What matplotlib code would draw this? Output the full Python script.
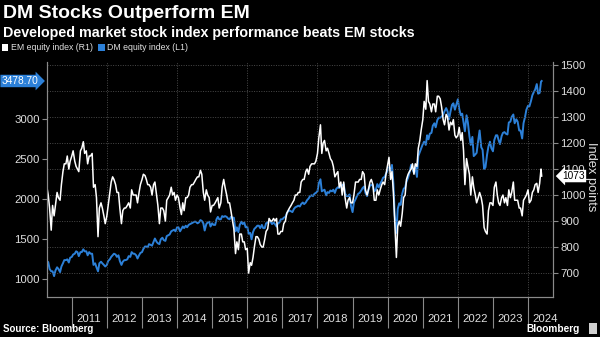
import matplotlib
matplotlib.use('Agg')
import matplotlib.pyplot as plt
from matplotlib.patches import Patch, Rectangle
import pandas as pd

# semi-monthly readings (1st and 15th), mid-April 2010 to mid-May 2024, plus last close
dates = list(pd.date_range('2010-04-15', '2024-05-15', freq='SMS')) + [pd.Timestamp('2024-05-22')]

# MSCI EM, right axis
em = [
    1035, 1000, 950, 865, 960, 920, 960, 1010, 990, 980, 1040, 1090, 1120, 1120, 1150, 1100, 1130,
    1150, 1170, 1130, 1110, 1100, 1090, 1170, 1180, 1205, 1160, 1170, 1120, 1150, 1150, 1160, 1030, 1040, 990, 840, 950, 970, 950, 920, 890,
    920, 960, 1010, 1050, 1070, 1060, 1040, 1010, 1010, 950, 890, 940, 950, 950, 960, 970, 950, 1020, 1000, 1000, 1000, 970, 1010, 1040,
    1060, 1080, 1075, 1060, 1040, 1040, 1030, 1000, 1040, 1050, 1000, 960, 890, 950, 950, 940, 900, 980, 990, 1000, 1030, 1000, 1010, 980,
    1000, 990, 950, 925, 970, 940, 990, 990, 1000, 1030, 1040, 1040, 1050, 1060, 1070, 1070, 1095, 1080, 1010, 980, 1020, 1000, 990, 935,
    960, 960, 970, 980, 990, 950, 970, 1030, 1060, 1030, 1000, 970, 970, 940, 900, 870, 775, 820, 790, 850, 850, 820, 820, 790,
    795, 700, 740, 730, 760, 800, 840, 840, 830, 810, 800, 800, 830, 860, 870, 910, 900, 900, 910, 900, 910, 850, 850, 860,
    860, 890, 900, 930, 940, 950, 960, 970, 980, 1000, 1000, 1010, 1010, 1050, 1060, 1060, 1090, 1100, 1080, 1110, 1120, 1120, 1120, 1130,
    1160, 1220, 1270, 1160, 1200, 1210, 1170, 1180, 1160, 1140, 1130, 1110, 1070, 1080, 1090, 1030, 1050, 1000, 1050, 990, 950, 980, 990, 970,
    970, 1000, 1050, 1050, 1050, 1060, 1060, 1090, 1080, 1020, 1000, 1020, 1050, 1060, 1040, 980, 980, 1020, 1000, 1020, 1040, 1050, 1040, 1080,
    1115, 1145, 1060, 1090, 1010, 900, 760, 880, 900, 880, 930, 990, 1000, 1060, 1080, 1090, 1100, 1120, 1080, 1120, 1110, 1180, 1210, 1250,
    1290, 1360, 1330, 1440, 1360, 1350, 1320, 1350, 1350, 1320, 1380, 1380, 1370, 1340, 1290, 1270, 1310, 1300, 1250, 1280, 1270, 1290, 1230, 1220,
    1230, 1260, 1210, 1240, 1170, 1040, 1140, 1110, 1080, 1000, 1070, 1030, 1000, 970, 990, 1010, 990, 960, 875, 860, 850, 940, 970, 970,
    960, 1030, 1050, 1000, 970, 960, 990, 1000, 970, 990, 960, 1020, 990, 1010, 1050, 980, 980, 980, 950, 950, 920, 980, 990, 1000,
    1020, 970, 980, 1010, 1020, 1040, 1045, 1010, 1045, 1100, 1073,
]

# MSCI World, left axis
dm = [
    1230, 1215, 1130, 1100, 1100, 1040, 1110, 1150, 1130, 1090, 1160, 1200, 1240, 1240, 1250, 1210, 1270,
    1280, 1310, 1320, 1350, 1340, 1290, 1340, 1340, 1375, 1350, 1350, 1300, 1340, 1320, 1320, 1180, 1200, 1150, 1100, 1200, 1220, 1200, 1180, 1160,
    1180, 1230, 1250, 1280, 1300, 1320, 1310, 1280, 1300, 1230, 1180, 1220, 1240, 1240, 1250, 1290, 1280, 1340, 1320, 1320, 1300, 1260, 1300, 1330,
    1340, 1380, 1410, 1410, 1400, 1440, 1430, 1420, 1470, 1510, 1470, 1450, 1440, 1500, 1520, 1490, 1480, 1540, 1550, 1560, 1600, 1610, 1620, 1600,
    1650, 1650, 1600, 1630, 1660, 1640, 1670, 1650, 1680, 1690, 1700, 1710, 1720, 1720, 1700, 1710, 1740, 1730, 1700, 1610, 1690, 1710, 1720, 1660,
    1700, 1680, 1680, 1750, 1780, 1750, 1750, 1790, 1780, 1790, 1780, 1760, 1750, 1780, 1770, 1770, 1600, 1650, 1590, 1680, 1720, 1690, 1710, 1650,
    1660, 1570, 1580, 1500, 1590, 1630, 1650, 1670, 1670, 1640, 1680, 1640, 1640, 1700, 1710, 1730, 1720, 1690, 1710, 1690, 1660, 1700, 1710, 1750,
    1750, 1770, 1780, 1820, 1850, 1860, 1850, 1840, 1880, 1900, 1910, 1920, 1910, 1940, 1960, 1940, 1960, 1990, 2010, 2040, 2050, 2040, 2070, 2080,
    2100, 2200, 2250, 2100, 2110, 2120, 2050, 2090, 2080, 2110, 2100, 2120, 2080, 2130, 2150, 2140, 2170, 2170, 2190, 2070, 2040, 2040, 2060, 1920,
    1840, 1960, 2000, 2040, 2070, 2080, 2110, 2140, 2160, 2080, 2040, 2120, 2170, 2180, 2170, 2100, 2120, 2190, 2150, 2190, 2230, 2270, 2280, 2320,
    2360, 2400, 2360, 2430, 2200, 1800, 1580, 1880, 1950, 1930, 2070, 2130, 2150, 2220, 2270, 2330, 2430, 2380, 2330, 2410, 2280, 2540, 2590, 2630,
    2690, 2720, 2680, 2800, 2750, 2820, 2830, 2920, 2950, 2900, 2990, 3020, 3020, 3030, 3060, 3100, 3140, 3100, 3000, 3090, 3180, 3200, 3120, 3180,
    3250, 3130, 3050, 3070, 2960, 2850, 3050, 2960, 2790, 2680, 2780, 2540, 2560, 2580, 2740, 2860, 2650, 2620, 2380, 2400, 2560, 2660, 2720, 2640,
    2600, 2740, 2800, 2800, 2740, 2690, 2790, 2830, 2840, 2820, 2810, 2960, 2970, 3030, 3060, 2950, 3000, 2970, 2860, 2860, 2760, 2950, 3030, 3120,
    3170, 3160, 3230, 3300, 3340, 3370, 3440, 3320, 3330, 3470, 3478.70,
]

years = list(range(2011, 2025))
left_ticks = [1000, 1500, 2000, 2500, 3000]
right_ticks = [700, 800, 900, 1000, 1100, 1200, 1300, 1400, 1500]

BLUE = '#2c80d8'
GREY = '#8a8a8a'
TXT = '#e0e0e0'
FONT = 'Liberation Sans'

fig = plt.figure(figsize=(6, 3.37), dpi=100, facecolor='black')
ax = fig.add_axes([46.7 / 600, 1 - 297 / 337, (553.3 - 46.7) / 600, 235 / 337])
ax.set_facecolor('black')
ax2 = ax.twinx()

ax.plot(dates, dm, color=BLUE, lw=1.4)
ax2.plot(dates, em, color='white', lw=1.1)

ax.set_xlim(pd.Timestamp('2010-04-15'), pd.Timestamp('2024-09-20'))
ax.set_ylim(779, 3716)
ax2.set_ylim(608, 1511.5)

ax.set_yticks(left_ticks)
ax2.set_yticks(right_ticks)
for a in (ax, ax2):
    for s in a.spines.values():
        s.set_color(GREY)
        s.set_linewidth(0.8)
    a.spines['top'].set_visible(False)
    a.tick_params(axis='y', colors=GREY, labelcolor=TXT, length=3.5, width=0.8, labelsize=8.2, pad=1.5)
    for lab in a.get_yticklabels():
        lab.set_family(FONT)

# dotted grid: horizontal on right-axis ticks, vertical every second year
ax2.grid(axis='y', color='#4a4a4a', linestyle=(0, (1, 1.5)), linewidth=0.7)
for y in years:
    if y % 2 == 0:
        ax.axvline(pd.Timestamp(f'{y}-01-01'), color='#4a4a4a', linestyle=(0, (1, 1.5)), linewidth=0.7)

# year separators below the axis and centred year labels
ax.set_xticks([pd.Timestamp(f'{y}-01-01') for y in years])
ax.set_xticklabels([])
ax.tick_params(axis='x', which='major', colors=GREY, length=22.5, width=0.8)
ax.set_xticks([pd.Timestamp(f'{y}-07-01') for y in years], minor=True)
ax.set_xticklabels([str(y) for y in years], minor=True)
ax.tick_params(axis='x', which='minor', length=0, pad=12, labelsize=8.2, labelcolor=TXT)
for lab in ax.get_xticklabels(minor=True):
    lab.set_family(FONT)

# last-value tags
ax.annotate(f'{dm[-1]:.2f}', xy=(0, dm[-1]), xycoords=ax.get_yaxis_transform(),
            xytext=(-6, 0), textcoords='offset points', ha='right', va='center',
            color='white', fontsize=7.3, family=FONT,
            bbox=dict(boxstyle='rarrow,pad=0.12', fc=BLUE, ec='none'))
ax2.annotate(f'{em[-1]}', xy=(1, em[-1]), xycoords=ax2.get_yaxis_transform(),
             xytext=(6.5, 0), textcoords='offset points', ha='left', va='center',
             color='black', fontsize=7.3, family=FONT,
             bbox=dict(boxstyle='larrow,pad=0.12', fc='white', ec='none'))

fig.text(591 / 600, 1 - 177 / 337, 'Index points', rotation=270, ha='center', va='center',
         color=TXT, fontsize=9.3, family=FONT)

# titles
fig.text(3 / 600, 1 - 14 / 337, 'DM Stocks Outperform EM', color='white', fontsize=14,
         fontweight='bold', family=FONT, va='center')
fig.text(3 / 600, 1 - 33 / 337, 'Developed market stock index performance beats EM stocks',
         color='white', fontsize=10.3, fontweight='bold', family=FONT, va='center')

fig.legend(handles=[Patch(fc='white'), Patch(fc=BLUE)],
           labels=['EM equity index (R1)', 'DM equity index (L1)'],
           loc='center left', bbox_to_anchor=(0.0, 1 - 48 / 337), ncol=2, frameon=False,
           handlelength=0.75, handleheight=0.75, handletextpad=0.3, columnspacing=0.6,
           borderaxespad=0, borderpad=0.2, labelcolor=TXT, prop={'family': FONT, 'size': 6.3})

fig.text(3 / 600, 1 - 329 / 337, 'Source: Bloomberg', color='white', fontsize=7,
         fontweight='bold', family=FONT, va='center')
fig.text(580 / 600, 1 - 329 / 337, 'Bloomberg', color='white', fontsize=7.3,
         fontweight='bold', family=FONT, va='center', ha='right')
fig.add_artist(Rectangle((589 / 600, 1 - 334 / 337), 8 / 600, 11 / 337, fc='#cfcfcf', ec='none',
                         transform=fig.transFigure))

fig.savefig('out.png', dpi=100, facecolor='black')
